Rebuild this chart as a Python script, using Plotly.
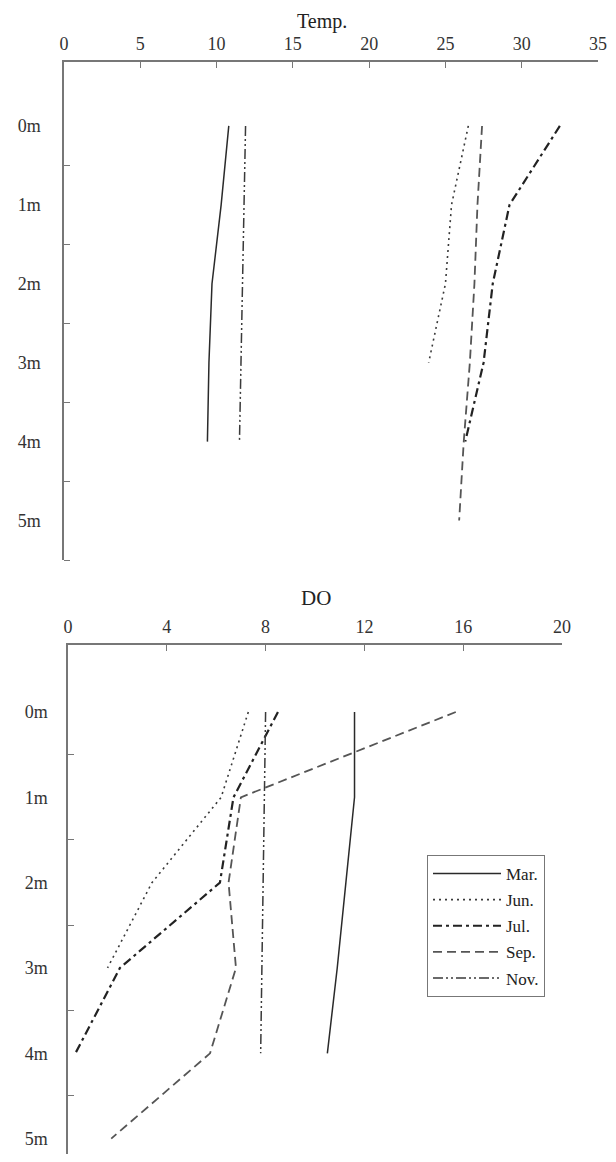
import plotly.graph_objects as go

# ---------------- data ----------------
depths = [0, 1, 2, 3, 4, 5]
depth_labels = ["0m", "1m", "2m", "3m", "4m", "5m"]
months = ["Mar.", "Jun.", "Jul.", "Sep.", "Nov."]

temp_mar = [10.8, 10.3, 9.7, 9.5, 9.4]
temp_jun = [26.5, 25.4, 25.0, 23.9]
temp_jul = [32.5, 29.2, 28.1, 27.5, 26.3]
temp_sep = [27.4, 27.1, 26.9, 26.6, 26.2, 25.9]
temp_nov = [11.9, 11.8, 11.7, 11.6, 11.5]

do_mar = [11.6, 11.6, 11.25, 10.9, 10.5]
do_jun = [7.3, 6.2, 3.4, 1.6]
do_jul = [8.5, 6.7, 6.15, 2.1, 0.3]
do_sep = [15.7, 7.0, 6.5, 6.8, 5.75, 1.75]
do_nov = [8.0, 7.95, 7.9, 7.85, 7.8]

temp_ticks = [0, 5, 10, 15, 20, 25, 30, 35]
do_ticks = [0, 4, 8, 12, 16, 20]
half_depths = [0.5, 1.5, 2.5, 3.5, 4.5, 5.5]

# ---------------- styles ----------------
styles = {
    "Mar.": dict(color="#2a2a2a", width=1.5, dash="solid"),
    "Jun.": dict(color="#3a3a3a", width=1.6, dash="2px,4px"),
    "Jul.": dict(color="#222222", width=2.2, dash="9px,4px,3px,4px"),
    "Sep.": dict(color="#555555", width=1.8, dash="9px,5px"),
    "Nov.": dict(color="#3a3a3a", width=1.5, dash="10px,3px,2px,3px,2px,3px"),
}

temp_series = [temp_mar, temp_jun, temp_jul, temp_sep, temp_nov]
do_series = [do_mar, do_jun, do_jul, do_sep, do_nov]

# page is 616x1162; the html body has an 8px margin
OFF = 8
W, H = 616 - OFF, 1162 - 2 * OFF
FONT = "Liberation Serif"

def px(xp):  # page x -> paper fraction
    return (xp - OFF) / W

def py(yp):  # page y -> paper fraction
    return 1 - (yp - OFF) / H

fig = go.Figure()

for name, vals in zip(months, temp_series):
    fig.add_trace(go.Scatter(
        x=vals, y=depths[:len(vals)], mode="lines", name=name,
        line=styles[name], showlegend=False, xaxis="x", yaxis="y"))

for name, vals in zip(months, do_series):
    fig.add_trace(go.Scatter(
        x=vals, y=depths[:len(vals)], mode="lines", name=name,
        line=styles[name], showlegend=True, legendgroup=name,
        xaxis="x2", yaxis="y2"))

axcol = "#777777"
tickfont = dict(family=FONT, size=18, color="#333333")

def xax(domain, rng, ticks, anchor):
    return dict(domain=domain, range=rng, tickvals=ticks, side="top", anchor=anchor,
                ticks="inside", ticklen=6, tickcolor=axcol, tickwidth=1.2,
                showline=True, linecolor=axcol, linewidth=1.5, mirror=False,
                showgrid=False, zeroline=False, tickfont=tickfont,
                ticklabelstandoff=3, automargin=False, fixedrange=True)

def yax(domain, rng, anchor, standoff):
    return dict(domain=domain, range=rng, tickvals=depths, ticktext=depth_labels,
                ticks="", anchor=anchor, showline=True, linecolor=axcol, linewidth=1.5,
                showgrid=False, zeroline=False, tickfont=tickfont,
                ticklabelstandoff=standoff, automargin=False,
                minor=dict(tickvals=half_depths, ticks="inside", ticklen=6,
                           tickcolor=axcol, tickwidth=1.2, showgrid=False))

# page coordinates of the two plot areas
top_y0, top_y1 = 62, 560
bot_y0, bot_y1 = 645, 1154

fig.update_layout(
    width=W, height=H,
    margin=dict(l=0, r=0, t=0, b=0, autoexpand=False),
    paper_bgcolor="white", plot_bgcolor="white",
    xaxis=xax([px(64), px(598)], [0, 35], temp_ticks, "y"),
    yaxis=yax([py(top_y1), py(top_y0)], [5.5, -0.81], "x", 18),
    xaxis2=xax([px(68), px(562)], [0, 20], do_ticks, "y2"),
    yaxis2=yax([py(bot_y1), py(bot_y0)], [5.18, -0.785], "x2", 15),
    legend=dict(x=px(427), y=py(855), xanchor="left", yanchor="top",
                bordercolor=axcol, borderwidth=1, bgcolor="white",
                font=dict(family=FONT, size=17, color="#222222"),
                itemwidth=68, tracegroupgap=1, traceorder="grouped"),
    annotations=[
        dict(text="Temp.", x=px(322), y=py(8), xref="paper", yref="paper",
             xanchor="center", yanchor="top",
             showarrow=False, font=dict(family=FONT, size=20, color="#222222")),
        dict(text="DO", x=px(316), y=py(598), xref="paper", yref="paper",
             xanchor="center", yanchor="middle",
             showarrow=False, font=dict(family=FONT, size=21, color="#222222")),
    ],
)

fig.write_html("out.html")
